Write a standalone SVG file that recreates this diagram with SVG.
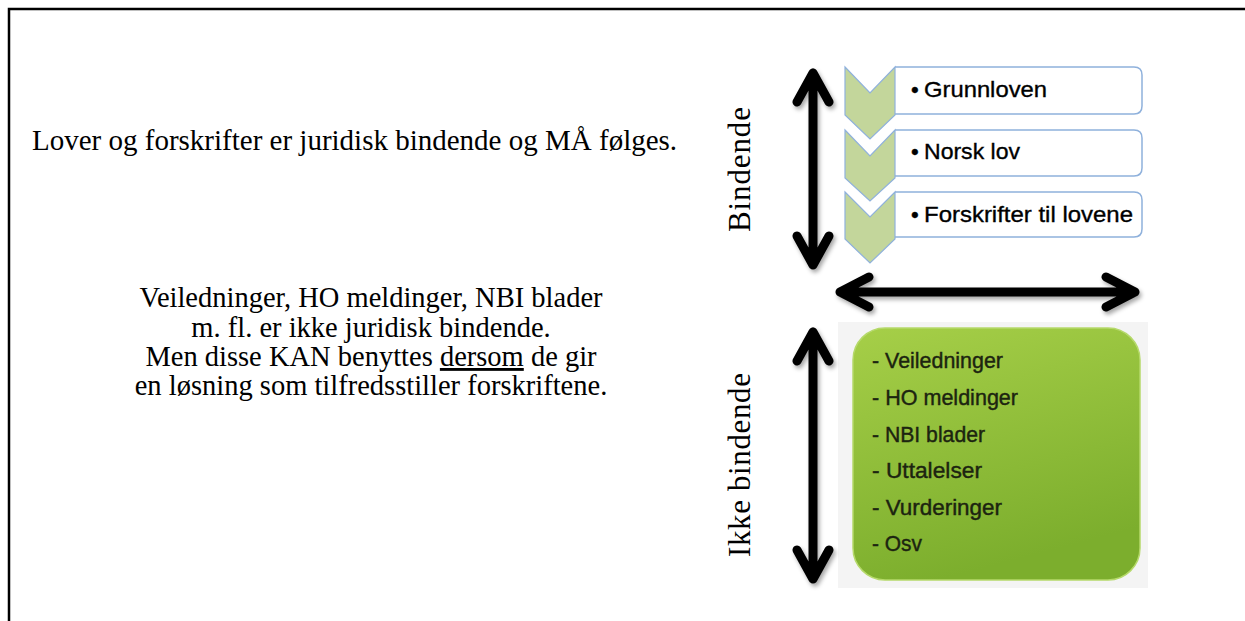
<svg xmlns="http://www.w3.org/2000/svg" width="1245" height="621" viewBox="0 0 1245 621">
<defs>
<style>
.serif{font-family:"Liberation Serif","Times New Roman",serif;fill:#000}
.sans{font-family:"Liberation Sans",Arial,sans-serif}
.para{font-size:28.5px}
.side{font-size:31px}
.chev{fill:#c3d69b;stroke:#8fb1dc;stroke-width:1.2}
.lbox{fill:#fff;stroke:#8fb1dc;stroke-width:1.5}
.ltxt{font-size:22px;fill:#000;stroke:#000;stroke-width:0.35}
.gtxt{font-size:21.5px;fill:#1c2410;stroke:#1c2410;stroke-width:0.4}
.arrow{fill:none;stroke:#000;stroke-width:9;stroke-linecap:round;stroke-linejoin:round}
</style>
<linearGradient id="green" x1="0" y1="0" x2="0.3" y2="1">
<stop offset="0" stop-color="#a6cf48"/>
<stop offset="1" stop-color="#7cae2d"/>
</linearGradient>
<filter id="shadow" x="-20%" y="-20%" width="140%" height="140%">
<feDropShadow dx="2" dy="3" stdDeviation="2" flood-color="#000" flood-opacity="0.35"/>
</filter>
</defs>
<rect width="1245" height="621" fill="#fff"/>
<g id="frame">
<path d="M9,621 L9,9 L1245,9" fill="none" stroke="#000" stroke-width="2.5"/>
</g>
<g id="text-bindende-desc">
<text class="serif" font-size="29" x="32" y="150">Lover og forskrifter er juridisk bindende og MÅ følges.</text>
</g>
<g id="text-ikke-desc" class="serif para" text-anchor="middle">
<text x="371" y="307">Veiledninger, HO meldinger, NBI blader</text>
<text x="371" y="337">m. fl. er ikke juridisk bindende.</text>
<text x="371" y="366">Men disse KAN benyttes <tspan text-decoration="underline">dersom</tspan> de gir</text>
<text x="371" y="395">en løsning som tilfredsstiller forskriftene.</text>
</g>
<g id="label-bindende">
<text class="serif side" text-anchor="middle" transform="translate(750,169.5) rotate(-90)" textLength="125">Bindende</text>
</g>
<g id="label-ikke-bindende">
<text class="serif side" text-anchor="middle" transform="translate(750,465) rotate(-90)" textLength="184">Ikke bindende</text>
</g>
<g id="node-grunnloven">
<path class="lbox" d="M895,67 H1134 Q1142,67 1142,75 V106 Q1142,114 1134,114 H895"/>
<path class="chev" d="M845,67 L870,93 L895,67 L895,115 L870,139 L845,115 Z"/>
<text class="sans ltxt" x="911" y="97">•</text>
<text class="sans ltxt" x="924" y="97" textLength="123" lengthAdjust="spacingAndGlyphs">Grunnloven</text>
</g>
<g id="node-norsk-lov">
<path class="lbox" d="M895,130 H1134 Q1142,130 1142,138 V168 Q1142,176 1134,176 H895"/>
<path class="chev" d="M845,130 L870,156 L895,130 L895,178 L870,201 L845,178 Z"/>
<text class="sans ltxt" x="911" y="159">•</text>
<text class="sans ltxt" x="924" y="159" textLength="96" lengthAdjust="spacingAndGlyphs">Norsk lov</text>
</g>
<g id="node-forskrifter">
<path class="lbox" d="M895,192 H1134 Q1142,192 1142,200 V229 Q1142,237 1134,237 H895"/>
<path class="chev" d="M845,192 L870,217 L895,192 L895,239 L870,263 L845,239 Z"/>
<text class="sans ltxt" x="911" y="222">•</text>
<text class="sans ltxt" x="924" y="222" textLength="209" lengthAdjust="spacingAndGlyphs">Forskrifter til lovene</text>
</g>
<g id="node-ikke-bindende-list">
<rect x="838" y="322" width="310" height="266" fill="#f4f4f4"/>
<rect x="853" y="328" width="287" height="252" rx="32" ry="32" fill="url(#green)" stroke="#b5d96a" stroke-width="1.5"/>
<text class="sans gtxt" x="872" y="368" textLength="131" lengthAdjust="spacingAndGlyphs">- Veiledninger</text>
<text class="sans gtxt" x="872" y="405" textLength="146" lengthAdjust="spacingAndGlyphs">- HO meldinger</text>
<text class="sans gtxt" x="872" y="442" textLength="113" lengthAdjust="spacingAndGlyphs">- NBI blader</text>
<text class="sans gtxt" x="872" y="478" textLength="110" lengthAdjust="spacingAndGlyphs">- Uttalelser</text>
<text class="sans gtxt" x="872" y="515" textLength="130" lengthAdjust="spacingAndGlyphs">- Vurderinger</text>
<text class="sans gtxt" x="872" y="551" textLength="50" lengthAdjust="spacingAndGlyphs">- Osv</text>
</g>
<g id="connectors" filter="url(#shadow)">
<path class="arrow" d="M813,73 L813,265 M797,102 L813,73 L829,102 M797,236 L813,265 L829,236"/>
<path class="arrow" d="M840,292 L1135,292 M869,277 L840,292 L869,307 M1106,277 L1135,292 L1106,307"/>
<path class="arrow" d="M813,332 L813,579 M797,361 L813,332 L829,361 M797,550 L813,579 L829,550"/>
</g>
</svg>
